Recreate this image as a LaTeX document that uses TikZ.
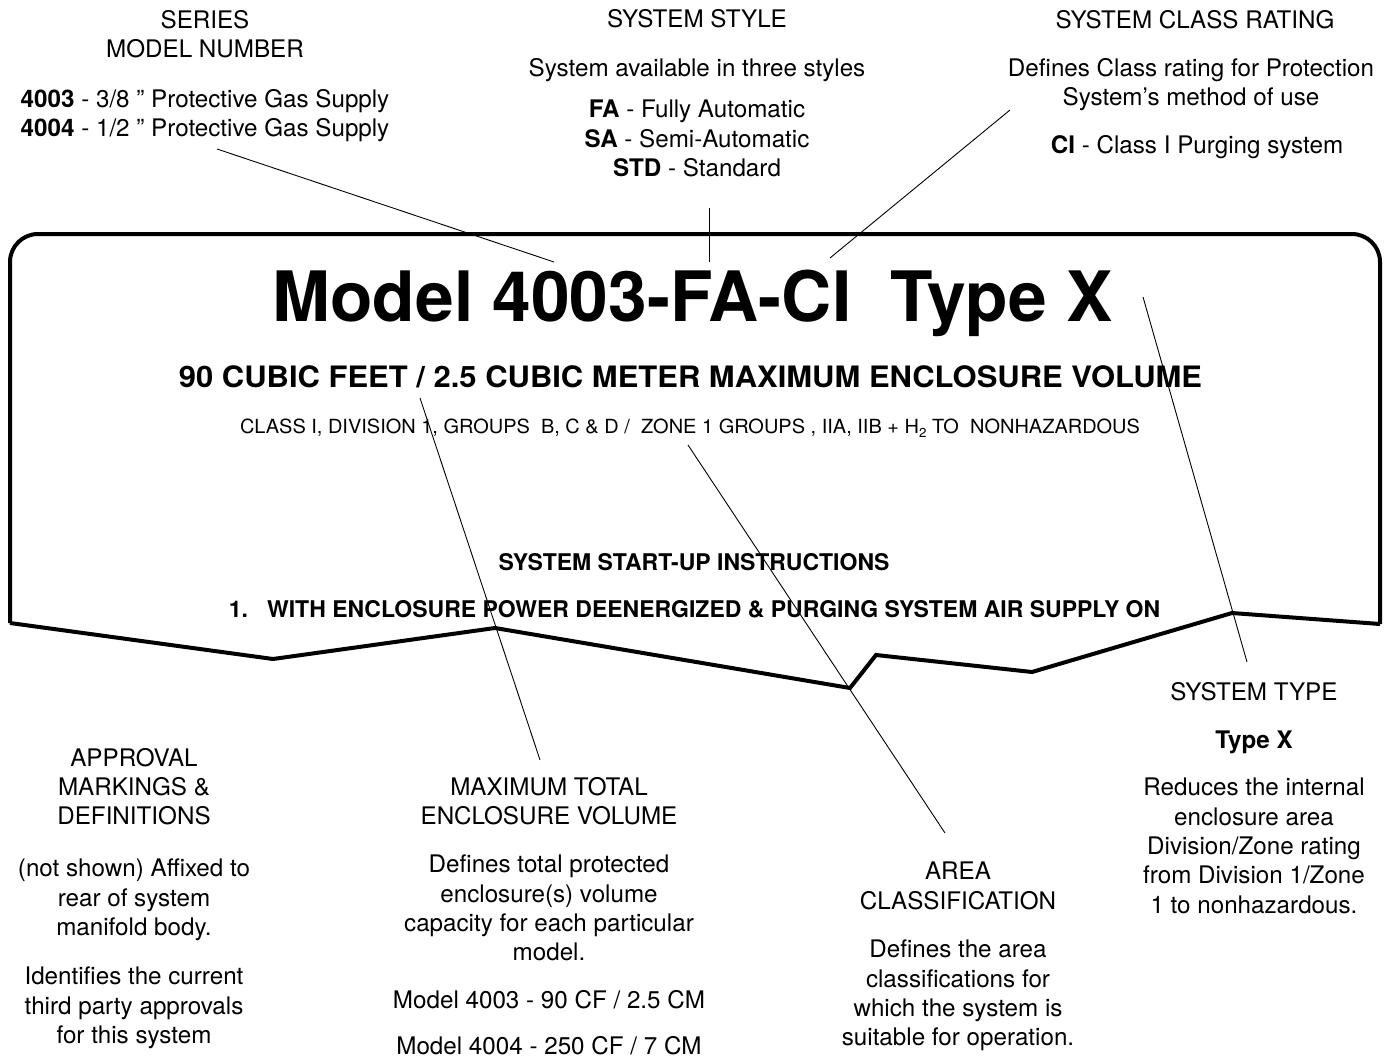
\documentclass[tikz,border=0pt]{standalone}
\usepackage{fontspec}
\setmainfont{TeX Gyre Heros}
\usepackage{graphicx}
\newcommand\bodyfont{\fontsize{24.2}{29.3}\selectfont}
\newcommand\titlefont{\fontsize{69.5}{70}\selectfont\bfseries}
\newcommand\subfont{\fontsize{29.5}{30}\selectfont\bfseries}
\newcommand\smallfont{\fontsize{19.5}{22}\selectfont}
\newcommand\stepfont{\fontsize{23}{26}\selectfont\bfseries}
\begin{document}
\begin{tikzpicture}[x=1pt,y=-1pt,
  txt/.style={inner sep=0pt, anchor=north, align=center, font=\bodyfont},
  paneltxt/.style={inner sep=0pt, anchor=base},
  lead/.style={line width=0.9pt},
  panel/.style={line width=4pt, line join=miter}]
\useasboundingbox (0,0) rectangle (1395,1057);

% top labels
\node[txt] (serieshead) at (205,10) {SERIES\\MODEL NUMBER};
\node[txt] (seriesbody) at (205,89) {\textbf{4003} - 3/8 ” Protective Gas Supply\\\textbf{4004} - 1/2 ” Protective Gas Supply};
\node[txt] (stylehead) at (697,9) {SYSTEM STYLE};
\node[txt] (styleintro) at (697,58) {System available in three styles};
\node[txt] (stylebody) at (697,100) {\textbf{FA} - Fully Automatic\\\textbf{SA} - Semi-Automatic\\\textbf{STD} - Standard};
\node[txt] (classhead) at (1195,10) {SYSTEM CLASS RATING};
\node[txt] (classintro) at (1191,58) {Defines Class rating for Protection\\System’s method of use};
\node[txt] (classbody) at (1197,135) {\textbf{CI} - Class I Purging system};

% panel
\draw[panel, rounded corners=28pt] (10,623) -- (10,234) -- (1380,234) -- (1380,624);
\draw[panel] (1380,624) -- (1232,613) -- (1032,672) -- (876,655) -- (850,688)
  -- (495,628) -- (273,659) -- (10,623);

\node[paneltxt] (title) at (692.5,321) {\titlefont Model 4003-FA-CI\ \ Type X};
\node[paneltxt] (volume) at (690.5,387) {\subfont\scalebox{1.05}[1]{90 CUBIC FEET / 2.5 CUBIC METER MAXIMUM ENCLOSURE VOLUME}};
\node[paneltxt] (classline) at (690,433) {\smallfont\scalebox{1.025}[1]{CLASS I, DIVISION 1, GROUPS\ \ B, C \& D /\ \ ZONE 1 GROUPS , IIA, IIB + H\raisebox{-0.45ex}{\fontsize{13}{13}\selectfont 2} TO\ \ NONHAZARDOUS}};
\node[paneltxt] (startup) at (694,570) {\stepfont SYSTEM START-UP INSTRUCTIONS};
\node[paneltxt] (stepone) at (694.5,617) {\stepfont 1.\ \ \ WITH ENCLOSURE POWER DEENERGIZED \& PURGING SYSTEM AIR SUPPLY ON};

% bottom labels
\node[txt] (typehead) at (1254,682) {SYSTEM TYPE};
\node[txt, font=\bodyfont\bfseries] (typename) at (1254,731) {Type X};
\node[txt] (typebody) at (1254,778) {Reduces the internal\\enclosure area\\Division/Zone rating\\from Division 1/Zone\\1 to nonhazardous.};
\node[txt] (apphead) at (134,748) {APPROVAL\\MARKINGS \&\\DEFINITIONS};
\node[txt] (appbody) at (134,859) {(not shown) Affixed to\\rear of system\\manifold body.};
\node[txt] (appnote) at (134,967) {Identifies the current\\third party approvals\\for this system};
\node[txt] (volhead) at (549,777) {MAXIMUM TOTAL\\ENCLOSURE VOLUME};
\node[txt] (volbody) at (549,855) {Defines total protected\\enclosure(s) volume\\capacity for each particular\\model.};
\node[txt] (volone) at (549,990) {Model 4003 - 90 CF / 2.5 CM};
\node[txt] (voltwo) at (549,1036) {Model 4004 - 250 CF / 7 CM};
\node[txt] (areahead) at (958,862) {AREA\\CLASSIFICATION};
\node[txt] (areabody) at (958,940) {Defines the area\\classifications for\\which the system is\\suitable for operation.};

% leader lines
\coordinate (seriesA) at (217,149); \coordinate (seriesB) at (554,262);
\coordinate (styleA) at (709,208);  \coordinate (styleB) at (709,262);
\coordinate (classA) at (1010,110); \coordinate (classB) at (830,258);
\coordinate (typeA) at (1143,297);  \coordinate (typeB) at (1247,662);
\coordinate (volA) at (420,398);    \coordinate (volB) at (540,760);
\coordinate (areaA) at (688,445);   \coordinate (areaB) at (945,833);
\draw[lead] (seriesA) -- (seriesB);
\draw[lead] (styleA) -- (styleB);
\draw[lead] (classA) -- (classB);
\draw[lead] (typeA) -- (typeB);
\draw[lead] (volA) -- (volB);
\draw[lead] (areaA) -- (areaB);
\end{tikzpicture}
\end{document}
